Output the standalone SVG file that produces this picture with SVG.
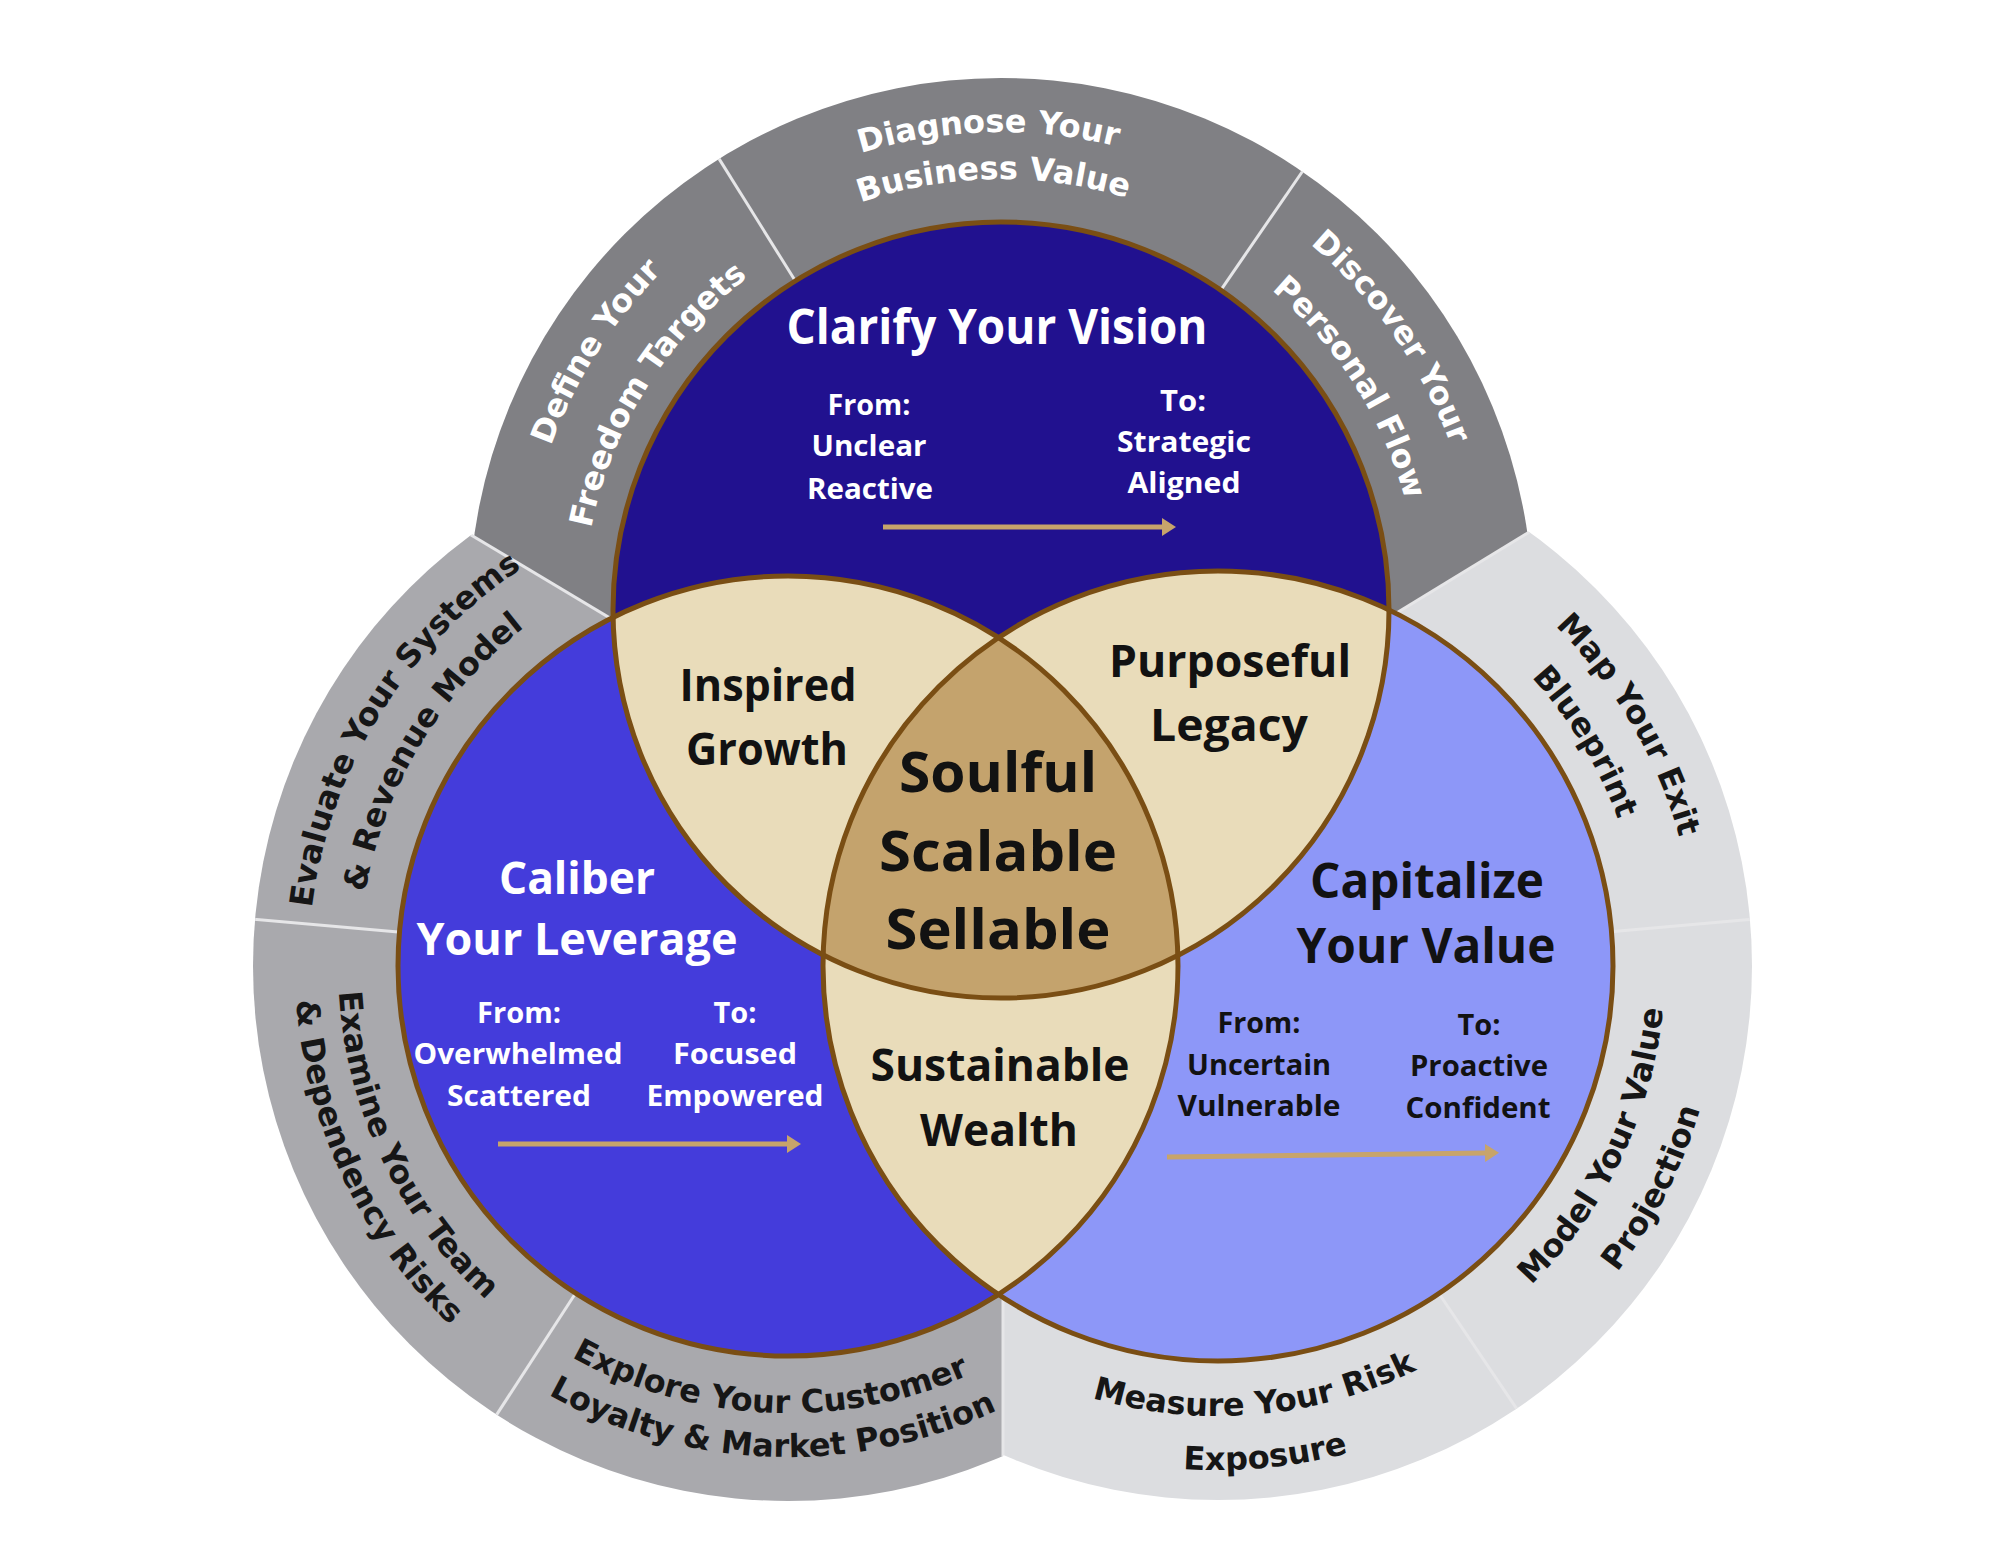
<svg xmlns="http://www.w3.org/2000/svg" width="2000" height="1555" viewBox="0 0 2000 1555">
<defs>
<style>
.ringw{font-family:"DejaVu Sans","Liberation Sans",sans-serif;font-weight:bold;font-size:32px;fill:#ffffff}
.ringk{font-family:"DejaVu Sans","Liberation Sans",sans-serif;font-weight:bold;font-size:32px;fill:#161616}
.lbl{font-family:"Open Sans","Liberation Sans",sans-serif;font-weight:700;text-anchor:middle}
.sm{font-size:28px}
.w{fill:#ffffff}
.k{fill:#121212}
.sep{stroke:#e6e6e8;stroke-width:3}
.edge{fill:none;stroke:#7a4e14;stroke-width:5}
.arr{stroke:#c7a46b;stroke-width:5;fill:none;marker-end:url(#ah)}
</style>
<marker id="ah" viewBox="0 0 14 18" refX="1" refY="9" markerWidth="14" markerHeight="18" markerUnits="userSpaceOnUse" orient="auto"><path d="M0,0 L14,9 L0,18 Z" fill="#c7a46b"/></marker>
<clipPath id="cT"><circle cx="1001" cy="610" r="388"/></clipPath>
<clipPath id="cL"><circle cx="788" cy="966" r="390"/></clipPath>
<clipPath id="cR"><circle cx="1218" cy="966" r="395"/></clipPath>
<clipPath id="vT"><polygon points="1003,853 -55,221 -100,-300 2100,-300 2052,213"/></clipPath>
<clipPath id="vL"><polygon points="1003,853 -55,221 -100,1700 1003,1700"/></clipPath>
<clipPath id="vR"><polygon points="1003,853 1003,1700 2100,1700 2052,213"/></clipPath>
<clipPath id="outer">
<circle cx="1001" cy="610" r="532"/>
<circle cx="788" cy="966" r="535"/>
<circle cx="1218" cy="966" r="534"/>
</clipPath>
<path id="p1" d="M533.4,713.7 A479,479 0 0 1 897.3,142.4"/>
<path id="p2" d="M593.7,704.0 A418,418 0 0 1 907.0,202.7"/>
<path id="p3" d="M654.3,281.0 A478,478 0 0 1 1330.0,263.3"/>
<path id="p4" d="M691.0,310.6 A431,431 0 0 1 1300.4,300.0"/>
<path id="p5" d="M1084.2,138.3 A479,479 0 0 1 1472.7,693.2"/>
<path id="p6" d="M1091.7,200.9 A419,419 0 0 1 1410.1,700.7"/>
<path id="p7" d="M318.4,1065.5 A479,479 0 0 1 665.7,503.6"/>
<path id="p8" d="M371.7,1069.8 A429,429 0 0 1 684.2,549.7"/>
<path id="p9" d="M363.6,816.5 A450,450 0 0 0 638.5,1390.4"/>
<path id="p10" d="M323.6,800.6 A493,493 0 0 0 622.6,1430.4"/>
<path id="p11" d="M458.4,1268.0 A447,447 0 0 0 1090.0,1295.6"/>
<path id="p12" d="M428.9,1300.9 A491,491 0 0 0 1122.9,1325.1"/>
<path id="p13" d="M1338.7,502.5 A479,479 0 0 1 1681.5,1086.7"/>
<path id="p14" d="M1318.2,551.9 A426,426 0 0 1 1632.1,1066.2"/>
<path id="p15" d="M1367.2,1387.4 A447,447 0 0 0 1639.4,816.8"/>
<path id="p16" d="M1373.4,1444.4 A503,503 0 0 0 1696.4,810.6"/>
<path id="p17" d="M928.7,1310.7 A450,450 0 0 0 1562.7,1255.3"/>
<path id="p18" d="M897.4,1354.9 A504,504 0 0 0 1606.9,1286.6"/>
</defs>
<rect width="2000" height="1555" fill="#ffffff"/>

<g id="ring-top">
<circle cx="1001" cy="610" r="532" fill="#808084" clip-path="url(#vT)"/>
</g>
<g id="ring-left">
<circle cx="788" cy="966" r="535" fill="#a9a9ad" clip-path="url(#vL)"/>
</g>
<g id="ring-right">
<circle cx="1218" cy="966" r="534" fill="#dcdde0" clip-path="url(#vR)"/>
</g>
<g id="ring-separators" clip-path="url(#outer)">
<line class="sep" x1="466" y1="532" x2="1003" y2="853"/>
<line class="sep" x1="1536" y1="528" x2="1003" y2="853"/>
<line class="sep" x1="1003" y1="1510" x2="1003" y2="853"/>
<line class="sep" x1="799.6" y1="287.8" x2="714.9" y2="152.1"/>
<line class="sep" x1="1216.2" y1="296.8" x2="1306.9" y2="165.0"/>
<line class="sep" x1="409.4" y1="932.9" x2="250.1" y2="918.9"/>
<line class="sep" x1="581.1" y1="1284.7" x2="493.9" y2="1418.9"/>
<line class="sep" x1="1596.6" y1="932.9" x2="1755.9" y2="918.9"/>
<line class="sep" x1="1430.5" y1="1281.0" x2="1520.0" y2="1413.7"/>
</g>

<g id="seg-define-freedom-targets"><text class="ringw"><textPath href="#p1" startOffset="50%" text-anchor="middle">Define Your</textPath></text><text class="ringw"><textPath href="#p2" startOffset="50%" text-anchor="middle">Freedom Targets</textPath></text></g>
<g id="seg-diagnose-business-value"><text class="ringw"><textPath href="#p3" startOffset="50%" text-anchor="middle">Diagnose Your</textPath></text><text class="ringw"><textPath href="#p4" startOffset="50%" text-anchor="middle">Business Value</textPath></text></g>
<g id="seg-discover-personal-flow"><text class="ringw"><textPath href="#p5" startOffset="50%" text-anchor="middle">Discover Your</textPath></text><text class="ringw"><textPath href="#p6" startOffset="50%" text-anchor="middle">Personal Flow</textPath></text></g>
<g id="seg-evaluate-systems"><text class="ringk"><textPath href="#p7" startOffset="50%" text-anchor="middle">Evaluate Your Systems</textPath></text><text class="ringk"><textPath href="#p8" startOffset="50%" text-anchor="middle">&amp; Revenue Model</textPath></text></g>
<g id="seg-examine-team"><text class="ringk"><textPath href="#p9" startOffset="50%" text-anchor="middle">Examine Your Team</textPath></text><text class="ringk"><textPath href="#p10" startOffset="50%" text-anchor="middle">&amp; Dependency Risks</textPath></text></g>
<g id="seg-explore-customer"><text class="ringk"><textPath href="#p11" startOffset="50%" text-anchor="middle">Explore Your Customer</textPath></text><text class="ringk"><textPath href="#p12" startOffset="50%" text-anchor="middle">Loyalty &amp; Market Position</textPath></text></g>
<g id="seg-map-exit"><text class="ringk"><textPath href="#p13" startOffset="50%" text-anchor="middle">Map Your Exit</textPath></text><text class="ringk"><textPath href="#p14" startOffset="50%" text-anchor="middle">Blueprint</textPath></text></g>
<g id="seg-model-value"><text class="ringk"><textPath href="#p15" startOffset="50%" text-anchor="middle">Model Your Value</textPath></text><text class="ringk"><textPath href="#p16" startOffset="50%" text-anchor="middle">Projection</textPath></text></g>
<g id="seg-measure-risk"><text class="ringk"><textPath href="#p17" startOffset="50%" text-anchor="middle">Measure Your Risk</textPath></text><text class="ringk"><textPath href="#p18" startOffset="50%" text-anchor="middle">Exposure</textPath></text></g>

<g id="circle-vision"><circle cx="1001" cy="610" r="388" fill="#21118f"/></g>
<g id="circle-leverage"><circle cx="788" cy="966" r="390" fill="#443cdb"/></g>
<g id="circle-value"><circle cx="1218" cy="966" r="395" fill="#8d97f8"/></g>
<g id="overlap-inspired-growth"><circle cx="1001" cy="610" r="388" fill="#e9dcba" clip-path="url(#cL)"/></g>
<g id="overlap-purposeful-legacy"><circle cx="1001" cy="610" r="388" fill="#e9dcba" clip-path="url(#cR)"/></g>
<g id="overlap-sustainable-wealth"><circle cx="788" cy="966" r="390" fill="#e9dcba" clip-path="url(#cR)"/></g>
<g id="core-soulful" clip-path="url(#cR)"><circle cx="1001" cy="610" r="388" fill="#c4a36d" clip-path="url(#cL)"/></g>
<g id="outlines">
<circle class="edge" cx="1001" cy="610" r="388"/>
<circle class="edge" cx="788" cy="966" r="390"/>
<circle class="edge" cx="1218" cy="966" r="395"/>
</g>

<g id="label-vision">
<text class="lbl w" x="997" y="344" font-size="48" textLength="421" lengthAdjust="spacingAndGlyphs">Clarify Your Vision</text>
<text class="lbl w sm" x="869" y="415" textLength="83" lengthAdjust="spacingAndGlyphs">From:</text>
<text class="lbl w sm" x="869" y="456" textLength="115" lengthAdjust="spacingAndGlyphs">Unclear</text>
<text class="lbl w sm" x="870" y="499" textLength="126" lengthAdjust="spacingAndGlyphs">Reactive</text>
<text class="lbl w sm" x="1183" y="411" textLength="46" lengthAdjust="spacingAndGlyphs">To:</text>
<text class="lbl w sm" x="1184" y="452" textLength="134" lengthAdjust="spacingAndGlyphs">Strategic</text>
<text class="lbl w sm" x="1184" y="493" textLength="113" lengthAdjust="spacingAndGlyphs">Aligned</text>
</g>
<g id="label-leverage">
<text class="lbl w" x="577" y="894" font-size="44" textLength="156" lengthAdjust="spacingAndGlyphs">Caliber</text>
<text class="lbl w" x="577" y="955" font-size="44" textLength="321" lengthAdjust="spacingAndGlyphs">Your Leverage</text>
<text class="lbl w sm" x="519" y="1023" textLength="84" lengthAdjust="spacingAndGlyphs">From:</text>
<text class="lbl w sm" x="518" y="1064" textLength="209" lengthAdjust="spacingAndGlyphs">Overwhelmed</text>
<text class="lbl w sm" x="519" y="1106" textLength="144" lengthAdjust="spacingAndGlyphs">Scattered</text>
<text class="lbl w sm" x="735" y="1023" textLength="43" lengthAdjust="spacingAndGlyphs">To:</text>
<text class="lbl w sm" x="735" y="1064" textLength="124" lengthAdjust="spacingAndGlyphs">Focused</text>
<text class="lbl w sm" x="735" y="1106" textLength="177" lengthAdjust="spacingAndGlyphs">Empowered</text>
</g>
<g id="label-value">
<text class="lbl k" x="1427" y="898" font-size="48" textLength="234" lengthAdjust="spacingAndGlyphs">Capitalize</text>
<text class="lbl k" x="1426" y="963" font-size="48" textLength="259" lengthAdjust="spacingAndGlyphs">Your Value</text>
<text class="lbl k sm" x="1259" y="1033" textLength="83" lengthAdjust="spacingAndGlyphs">From:</text>
<text class="lbl k sm" x="1259" y="1075" textLength="144" lengthAdjust="spacingAndGlyphs">Uncertain</text>
<text class="lbl k sm" x="1259" y="1116" textLength="163" lengthAdjust="spacingAndGlyphs">Vulnerable</text>
<text class="lbl k sm" x="1479" y="1035" textLength="43" lengthAdjust="spacingAndGlyphs">To:</text>
<text class="lbl k sm" x="1479" y="1076" textLength="138" lengthAdjust="spacingAndGlyphs">Proactive</text>
<text class="lbl k sm" x="1478" y="1118" textLength="145" lengthAdjust="spacingAndGlyphs">Confident</text>
</g>
<g id="label-inspired-growth">
<text class="lbl k" x="768" y="701" font-size="44" textLength="177" lengthAdjust="spacingAndGlyphs">Inspired</text>
<text class="lbl k" x="767" y="765" font-size="44" textLength="162" lengthAdjust="spacingAndGlyphs">Growth</text>
</g>
<g id="label-purposeful-legacy">
<text class="lbl k" x="1230" y="677" font-size="45" textLength="242" lengthAdjust="spacingAndGlyphs">Purposeful</text>
<text class="lbl k" x="1229" y="741" font-size="45" textLength="158" lengthAdjust="spacingAndGlyphs">Legacy</text>
</g>
<g id="label-sustainable-wealth">
<text class="lbl k" x="1000" y="1081" font-size="45" textLength="259" lengthAdjust="spacingAndGlyphs">Sustainable</text>
<text class="lbl k" x="999" y="1146" font-size="45" textLength="158" lengthAdjust="spacingAndGlyphs">Wealth</text>
</g>
<g id="label-core">
<text class="lbl k" x="998" y="792" font-size="56" textLength="198" lengthAdjust="spacingAndGlyphs">Soulful</text>
<text class="lbl k" x="998" y="871" font-size="56" textLength="238" lengthAdjust="spacingAndGlyphs">Scalable</text>
<text class="lbl k" x="998" y="949" font-size="56" textLength="225" lengthAdjust="spacingAndGlyphs">Sellable</text>
</g>

<g id="connectors">
<line class="arr" x1="883" y1="527" x2="1163" y2="527"/>
<line class="arr" x1="498" y1="1144" x2="788" y2="1144"/>
<line class="arr" x1="1167" y1="1157" x2="1486" y2="1153"/>
</g>
</svg>
